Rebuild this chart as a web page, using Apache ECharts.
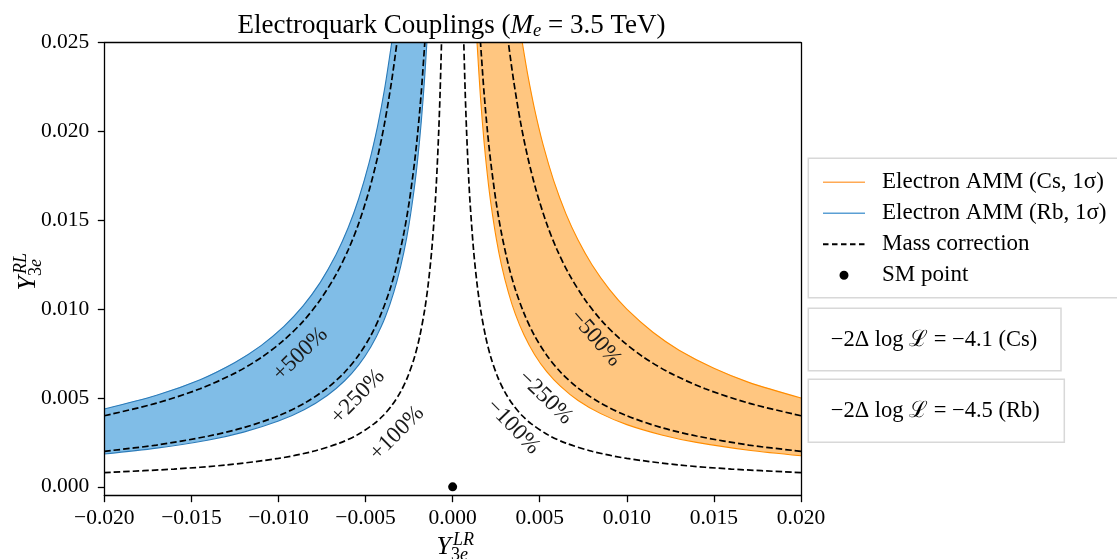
<!DOCTYPE html>
<html><head><meta charset="utf-8">
<script src="https://cdn.jsdelivr.net/npm/echarts@6/dist/echarts.min.js"></script>
<style>html,body{margin:0;padding:0;background:#fff}#c{width:1117px;height:559px}</style>
</head><body><div id="c"></div>
<script>
const FONT = '"Liberation Serif", "Times New Roman", serif';

// ---- tick values ----
const yTicks = [0, 0.005, 0.010, 0.015, 0.020, 0.025];

// ---- Electron AMM bands (edges) ----
const csLower = [[0.020,0.00175],[0.017,0.00206],[0.014,0.0025],[0.012,0.00292],[0.010,0.0035],[0.0085,0.00412],[0.0072,0.00486],[0.0062,0.00565],[0.0054,0.00648],[0.0047,0.00745],[0.0041,0.00854],[0.0036,0.00972],[0.0032,0.01094],[0.0028,0.0125],[0.0025,0.014],[0.0022,0.01591],[0.0020,0.0175],[0.0018,0.01944],[0.0016,0.02188],[0.0014,0.025]];
const csUpper = [[0.020,0.005],[0.017,0.00588],[0.015,0.00667],[0.013,0.00769],[0.0115,0.0087],[0.010,0.01],[0.009,0.01111],[0.008,0.0125],[0.0072,0.01389],[0.0065,0.01538],[0.0058,0.01724],[0.0052,0.01923],[0.0047,0.02128],[0.0043,0.02326],[0.0040,0.025]];
const rbLower = [[-0.020,0.00185],[-0.017,0.00218],[-0.014,0.00264],[-0.012,0.00308],[-0.010,0.0037],[-0.0085,0.00435],[-0.0072,0.00514],[-0.0062,0.00597],[-0.0054,0.00685],[-0.0047,0.00787],[-0.0041,0.00902],[-0.0036,0.01028],[-0.0032,0.01156],[-0.0028,0.01321],[-0.0025,0.0148],[-0.0022,0.01682],[-0.0020,0.0185],[-0.0018,0.02056],[-0.0016,0.02313],[-0.00148,0.025]];
const rbUpper = [[-0.020,0.00438],[-0.017,0.00515],[-0.0145,0.00603],[-0.0125,0.007],[-0.011,0.00795],[-0.0097,0.00902],[-0.0086,0.01017],[-0.0076,0.01151],[-0.0067,0.01306],[-0.0060,0.01458],[-0.0054,0.0162],[-0.0048,0.01823],[-0.0043,0.02035],[-0.0039,0.02244],[-0.0035,0.025]];

// ---- Mass correction contours ----
const massP100 = [[-0.020,0.0008],[-0.016,0.001],[-0.013,0.00123],[-0.010,0.0016],[-0.008,0.002],[-0.0065,0.00246],[-0.0055,0.00291],[-0.0045,0.00356],[-0.0040,0.004],[-0.0035,0.00457],[-0.0030,0.00533],[-0.0026,0.00615],[-0.0022,0.00727],[-0.0019,0.00842],[-0.0016,0.01],[-0.0014,0.01143],[-0.0012,0.01333],[-0.0010,0.016],[-0.0009,0.01778],[-0.0008,0.02],[-0.00072,0.02222],[-0.00064,0.025]];
const massM100 = [[0.020,0.0008],[0.016,0.001],[0.013,0.00123],[0.010,0.0016],[0.008,0.002],[0.0065,0.00246],[0.0055,0.00291],[0.0045,0.00356],[0.0040,0.004],[0.0035,0.00457],[0.0030,0.00533],[0.0026,0.00615],[0.0022,0.00727],[0.0019,0.00842],[0.0016,0.01],[0.0014,0.01143],[0.0012,0.01333],[0.0010,0.016],[0.0009,0.01778],[0.0008,0.02],[0.00072,0.02222],[0.00064,0.025]];
const massP250 = [[-0.020,0.002],[-0.017,0.00235],[-0.014,0.00286],[-0.012,0.00333],[-0.010,0.004],[-0.0085,0.00471],[-0.0072,0.00556],[-0.0062,0.00645],[-0.0054,0.00741],[-0.0047,0.00851],[-0.0041,0.00976],[-0.0036,0.01111],[-0.0032,0.0125],[-0.0028,0.01429],[-0.0025,0.016],[-0.0022,0.01818],[-0.0020,0.02],[-0.0018,0.02222],[-0.0016,0.025]];
const massM250 = [[0.020,0.002],[0.017,0.00235],[0.014,0.00286],[0.012,0.00333],[0.010,0.004],[0.0085,0.00471],[0.0072,0.00556],[0.0062,0.00645],[0.0054,0.00741],[0.0047,0.00851],[0.0041,0.00976],[0.0036,0.01111],[0.0032,0.0125],[0.0028,0.01429],[0.0025,0.016],[0.0022,0.01818],[0.0020,0.02],[0.0018,0.02222],[0.0016,0.025]];
const massP500 = [[-0.020,0.004],[-0.017,0.00471],[-0.0145,0.00552],[-0.0125,0.0064],[-0.011,0.00727],[-0.0097,0.00825],[-0.0086,0.0093],[-0.0076,0.01053],[-0.0067,0.01194],[-0.0060,0.01333],[-0.0054,0.01481],[-0.0048,0.01667],[-0.0043,0.0186],[-0.0039,0.02051],[-0.0035,0.02286],[-0.0032,0.025]];
const massM500 = [[0.020,0.004],[0.017,0.00471],[0.0145,0.00552],[0.0125,0.0064],[0.011,0.00727],[0.0097,0.00825],[0.0086,0.0093],[0.0076,0.01053],[0.0067,0.01194],[0.0060,0.01333],[0.0054,0.01481],[0.0048,0.01667],[0.0043,0.0186],[0.0039,0.02051],[0.0035,0.02286],[0.0032,0.025]];

// ---- SM point ----
const smPoint = [[0, 0]];

// ---- contour annotations ----
const curveLabelNames = ['+500%', '+250%', '+100%', '\u2212500%', '\u2212250%', '\u2212100%'];
const curveLabelPos = [[-0.00874,0.00747],[-0.00545,0.00507],[-0.00319,0.00301],[0.00819,0.00836],[0.00532,0.00503],[0.00347,0.00338]];
const curveLabelAngle = [44, 46, 45, -49, -44, -46];

// ---- legend / info texts ----
const legendNames = ['Electron AMM (Cs, 1\u03c3)', 'Electron AMM (Rb, 1\u03c3)', 'Mass correction', 'SM point'];
const infoTexts = ['\u22122\u0394 log \u2112 = \u22124.1 (Cs)', '\u22122\u0394 log \u2112 = \u22124.5 (Rb)'];

// ---- styles ----
const CS_FILL = '#ffc680', CS_EDGE = '#ff8c00', CS_LEG = '#ffaa55';
const RB_FILL = '#80bde7', RB_EDGE = '#2a7ab8', RB_LEG = '#5a9fd4';

function fmt(v) {
  if (Math.abs(v) < 1e-12) v = 0;
  return v.toFixed(3).replace('-', '\u2212');
}
function bandRender(points, color) {
  return function (params, api) {
    if (params.dataIndex !== 0) return null;
    return { type: 'polygon', shape: { points: points.map(p => api.coord(p)) }, style: { fill: color } };
  };
}
const csPoly = csUpper.concat(csLower.slice().reverse());
const rbPoly = rbUpper.concat(rbLower.slice().reverse());

const corner = 'M0,0 L0.01,0 L0,0.01 Z M54,14 L53.99,14 L54,13.99 Z ';
const ICON_LINE = 'path://' + corner + 'M0,6.3 L42,6.3 L42,7.7 L0,7.7 Z';
const ICON_DASH = 'path://' + corner + 'M0,6 L5.5,6 L5.5,8 L0,8 Z M9,6 L14.5,6 L14.5,8 L9,8 Z M18,6 L23.5,6 L23.5,8 L18,8 Z M27,6 L32.5,6 L32.5,8 L27,8 Z M36,6 L41.5,6 L41.5,8 L36,8 Z';
const ICON_DOT = 'path://' + corner + 'M16.5,7 A4.5,4.5 0 1 0 25.5,7 A4.5,4.5 0 1 0 16.5,7 Z';

function dashed(data) {
  return { type: 'line', name: 'Mass correction', data: data, showSymbol: false, smooth: 0.3, z: 4,
    lineStyle: { color: '#000', width: 1.7, type: [6.5, 3] }, itemStyle: { color: '#000' }, silent: true };
}
function edge(name, data, color) {
  return { type: 'line', name: name, data: data, showSymbol: false, smooth: 0.3, z: 3,
    lineStyle: { color: color, width: 1.1 }, itemStyle: { color: color }, silent: true };
}

const axisCommon = {
  axisLine: { show: true, onZero: false, lineStyle: { color: '#000', width: 1.3 } },
  axisTick: { show: true, inside: false, length: 6.5, lineStyle: { color: '#000', width: 1.3 } },
  splitLine: { show: false },
  z: 10
};

const chart = echarts.init(document.getElementById('c'), null, { renderer: 'canvas' });
chart.setOption({
  animation: false,
  backgroundColor: '#fff',
  title: {
    text: '{n|Electroquark Couplings (}{i|M}{s|e}{n| = 3.5 TeV)}',
    left: 446.5, top: 6, textAlign: 'center',
    textStyle: { fontWeight: 'normal', rich: {
      n: { fontFamily: FONT, fontSize: 27, fontWeight: 'normal', color: '#000', lineHeight: 30 },
      i: { fontFamily: FONT, fontSize: 27, fontWeight: 'normal', color: '#000', fontStyle: 'italic', lineHeight: 30 },
      s: { fontFamily: FONT, fontSize: 18.5, fontWeight: 'normal', color: '#000', fontStyle: 'italic', lineHeight: 14, verticalAlign: 'bottom' }
    } }
  },
  grid: { left: 104.3, right: 316, top: 42.7, bottom: 63.3, containLabel: false },
  xAxis: [
    Object.assign({}, axisCommon, {
      type: 'value', min: -0.02, max: 0.02, interval: 0.005, position: 'bottom',
      axisLabel: { show: true, margin: 12, fontFamily: FONT, fontSize: 21.5, color: '#000', formatter: fmt }
    }),
    Object.assign({}, axisCommon, {
      type: 'value', min: -0.02, max: 0.02, position: 'top',
      axisTick: { show: false }, axisLabel: { show: false }
    })
  ],
  yAxis: [
    Object.assign({}, axisCommon, {
      type: 'value', min: -0.0005, max: 0.025, position: 'left',
      axisTick: { show: true, inside: false, length: 6.5, lineStyle: { color: '#000', width: 1.3 }, customValues: yTicks },
      axisLabel: { show: true, margin: 15, fontFamily: FONT, fontSize: 21.5, color: '#000', formatter: fmt, customValues: yTicks }
    }),
    Object.assign({}, axisCommon, {
      type: 'value', min: -0.0005, max: 0.025, position: 'right',
      axisTick: { show: false }, axisLabel: { show: false }
    })
  ],
  legend: {
    orient: 'vertical', left: 808.3, top: 158.3,
    padding: [12.5, 40, 11, 14.7], itemWidth: 54, itemHeight: 14, itemGap: 8,
    backgroundColor: '#fff', borderColor: '#d8d8d8', borderWidth: 1.5, borderRadius: 0,
    selectedMode: false,
    textStyle: { fontFamily: FONT, fontSize: 23, color: '#000', lineHeight: 21 },
    data: [
      { name: legendNames[0], icon: ICON_LINE, itemStyle: { color: CS_LEG, borderWidth: 0 } },
      { name: legendNames[1], icon: ICON_LINE, itemStyle: { color: RB_LEG, borderWidth: 0 } },
      { name: legendNames[2], icon: ICON_DASH, itemStyle: { color: '#000', borderWidth: 0 } },
      { name: legendNames[3], icon: ICON_DOT, itemStyle: { color: '#000', borderWidth: 0 } }
    ]
  },
  graphic: [
    { type: 'group', x: 808.3, y: 308.3, children: [
      { type: 'rect', shape: { x: 0, y: 0, width: 252.7, height: 62.4 }, style: { fill: '#fff', stroke: '#d8d8d8', lineWidth: 1.5 } },
      { type: 'text', x: 22.4, y: 31.7, style: { text: infoTexts[0], font: '22.5px ' + FONT, fill: '#000', align: 'left', verticalAlign: 'middle' } }
    ] },
    { type: 'group', x: 808.3, y: 379.3, children: [
      { type: 'rect', shape: { x: 0, y: 0, width: 256, height: 63 }, style: { fill: '#fff', stroke: '#d8d8d8', lineWidth: 1.5 } },
      { type: 'text', x: 22.4, y: 31.4, style: { text: infoTexts[1], font: '22.5px ' + FONT, fill: '#000', align: 'left', verticalAlign: 'middle' } }
    ] },
    { type: 'group', x: 451, y: 547, children: [
      { type: 'text', x: 0, y: 0, style: { text: 'Y', font: 'italic 26px ' + FONT, fill: '#000', align: 'right', verticalAlign: 'middle' } },
      { type: 'text', x: 2, y: -7, style: { text: 'LR', font: 'italic 18px ' + FONT, fill: '#000', align: 'left', verticalAlign: 'middle' } },
      { type: 'text', x: 0, y: 8, style: { text: '3', font: '18px ' + FONT, fill: '#000', align: 'left', verticalAlign: 'middle' } },
      { type: 'text', x: 9, y: 8, style: { text: 'e', font: 'italic 18px ' + FONT, fill: '#000', align: 'left', verticalAlign: 'middle' } }
    ] },
    { type: 'group', x: 28, y: 276, rotation: Math.PI / 2, children: [
      { type: 'text', x: 0, y: 0, style: { text: 'Y', font: 'italic 26px ' + FONT, fill: '#000', align: 'right', verticalAlign: 'middle' } },
      { type: 'text', x: 2, y: -7, style: { text: 'RL', font: 'italic 18px ' + FONT, fill: '#000', align: 'left', verticalAlign: 'middle' } },
      { type: 'text', x: 0, y: 8, style: { text: '3', font: '18px ' + FONT, fill: '#000', align: 'left', verticalAlign: 'middle' } },
      { type: 'text', x: 9, y: 8, style: { text: 'e', font: 'italic 18px ' + FONT, fill: '#000', align: 'left', verticalAlign: 'middle' } }
    ] }
  ],
  series: [
    { type: 'custom', name: legendNames[0], data: csPoly, renderItem: bandRender(csPoly, CS_FILL), z: 1, silent: true, itemStyle: { color: CS_LEG } },
    { type: 'custom', name: legendNames[1], data: rbPoly, renderItem: bandRender(rbPoly, RB_FILL), z: 1, silent: true, itemStyle: { color: RB_LEG } },
    edge('Cs lower edge', csLower, CS_EDGE),
    edge('Cs upper edge', csUpper, CS_EDGE),
    edge('Rb lower edge', rbLower, RB_EDGE),
    edge('Rb upper edge', rbUpper, RB_EDGE),
    dashed(massP100), dashed(massM100), dashed(massP250), dashed(massM250), dashed(massP500), dashed(massM500),
    { type: 'scatter', name: legendNames[3], data: smPoint, symbol: 'circle', symbolSize: 9, itemStyle: { color: '#000', opacity: 1 }, z: 6, silent: true },
    { type: 'scatter', name: 'contour labels', symbolSize: 0, z: 7, silent: true, itemStyle: { opacity: 1 },
      data: curveLabelNames.map((n, i) => ({ name: n, value: curveLabelPos[i], label: { rotate: curveLabelAngle[i] } })),
      label: { show: true, position: 'inside', formatter: p => p.name, fontFamily: FONT, fontSize: 23, color: '#1a1a1a', opacity: 1 } }
  ]
});
</script>
</body></html>
